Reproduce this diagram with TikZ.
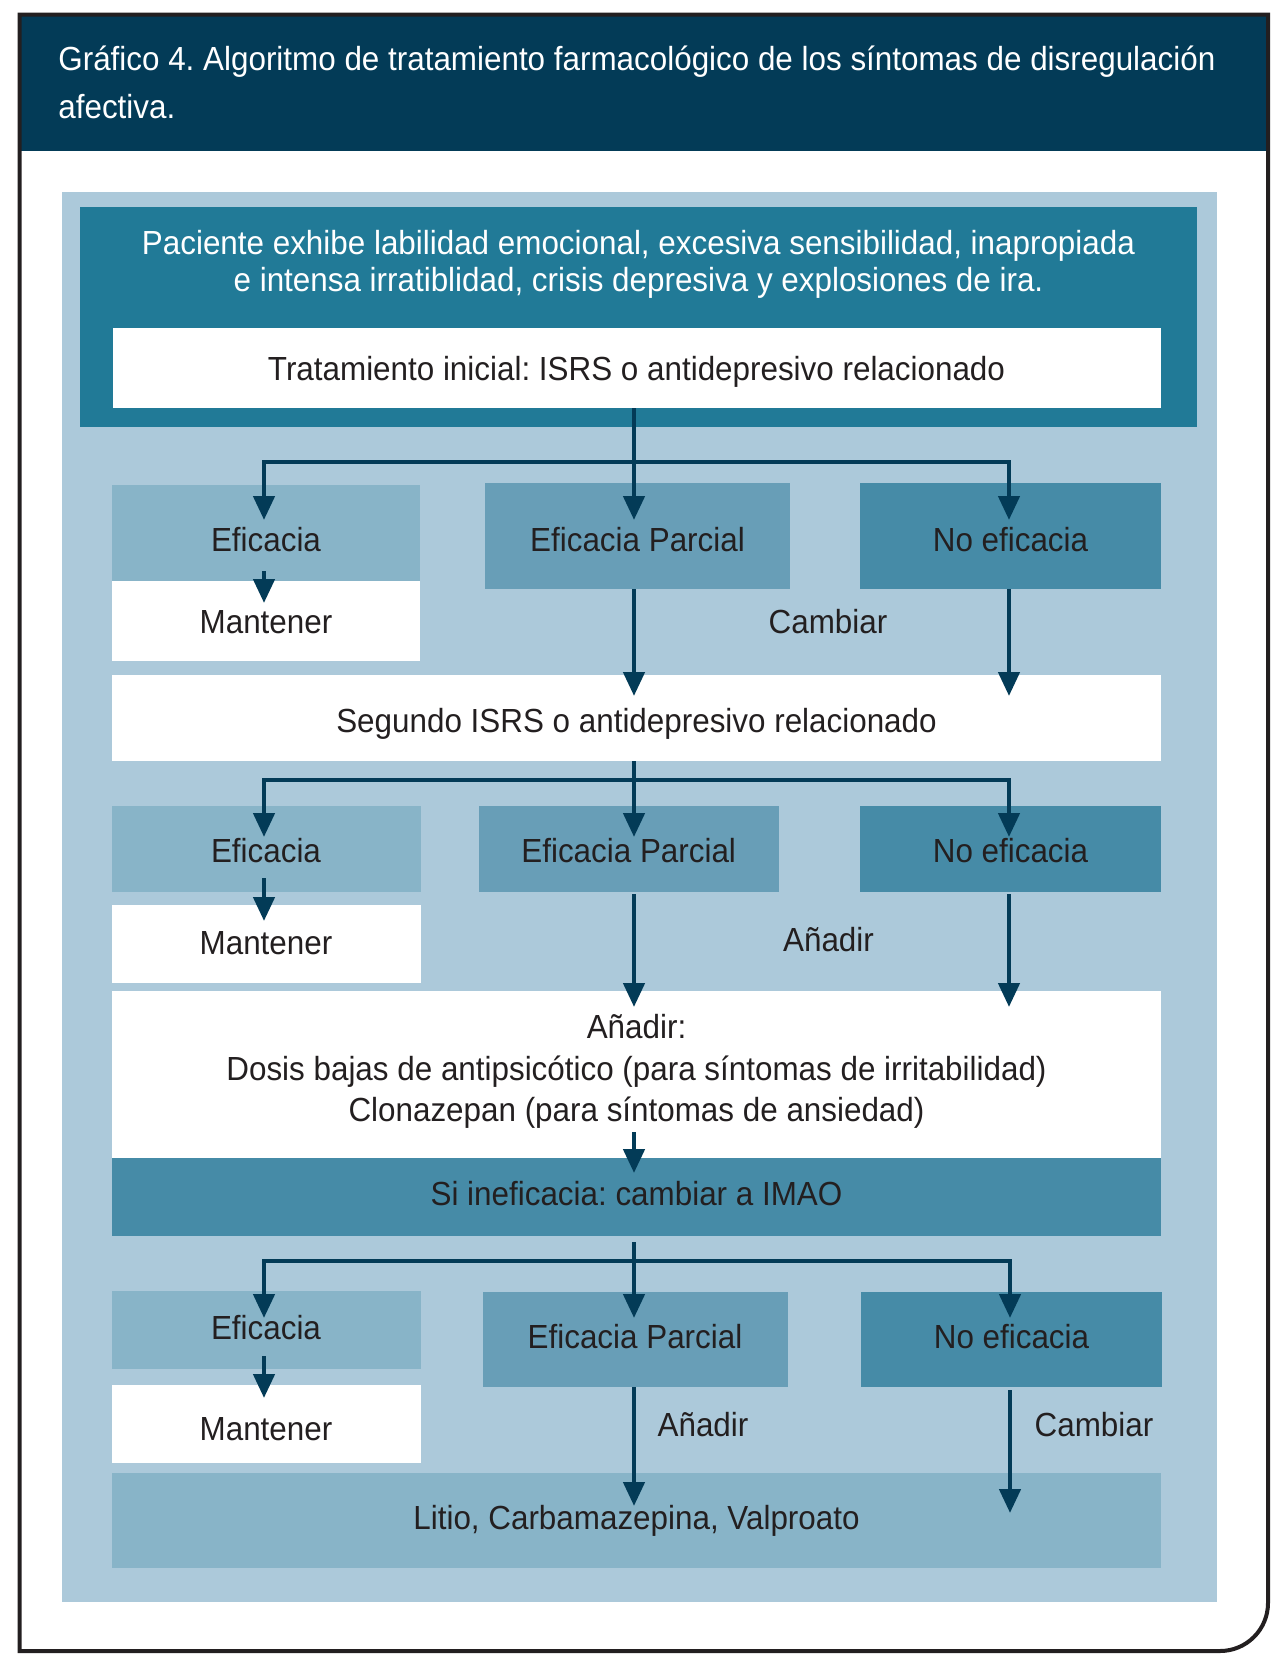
\documentclass[tikz,border=0pt]{standalone}
\usepackage{fontspec}
\setmainfont{Liberation Sans}[FakeStretch=0.94]
\usetikzlibrary{arrows.meta,calc,fit}
\frenchspacing

\definecolor{hdr}{HTML}{033B57}
\definecolor{panel}{HTML}{ACC9DA}
\definecolor{teal}{HTML}{217A97}
\definecolor{effc}{HTML}{88B4C8}
\definecolor{parc}{HTML}{689EB7}
\definecolor{noef}{HTML}{468BA7}
\definecolor{arrowc}{HTML}{033B57}
\definecolor{ink}{HTML}{231F20}
\definecolor{framec}{HTML}{231F20}

\begin{document}
\begin{tikzpicture}[
  x=0.5pt, y=-0.5pt,
  blk/.style={inner sep=0pt, outer sep=0pt, draw=none},
  txt/.style={inner sep=0pt, anchor=base, text=ink, font=\fontsize{16.7pt}{20pt}\selectfont},
  wtxt/.style={txt, text=white},
  arr/.style={draw=arrowc, line width=2.3pt, -{Triangle[length=12pt,width=10.5pt]}},
]
\useasboundingbox (0,0) rectangle (1273,1654);

% header band and outer frame
\fill[hdr] (19.5,14.5) rectangle (1268,151);
\draw[framec, line width=2pt]
  (19.5,1651) -- (19.5,14.5) -- (1268,14.5) -- (1268,1603)
  .. controls (1268,1629.5) and (1246.5,1651) .. (1220,1651) -- cycle;
\node[wtxt, anchor=base west] (title1) at (58,70.7)
  {Gráfico 4. Algoritmo de tratamiento farmacológico de los síntomas de disregulación};
\node[wtxt, anchor=base west] (title2) at (58,118) {afectiva.};

% light panel
\node[blk, fill=panel, fit={(62,192) (1217,1602)}] (panel) {};

% top block
\node[blk, fill=teal, fit={(80,207) (1197,427)}] (pac) {};
\node[wtxt] (pac1) at (638.5,254)
  {Paciente exhibe labilidad emocional, excesiva sensibilidad, inapropiada};
\node[wtxt] (pac2) at (638.5,291)
  {e intensa irratiblidad, crisis depresiva y explosiones de ira.};
\node[blk, fill=white, fit={(112.5,328) (1161,408)}] (tr) {};
\node[txt] (tr-t) at (636.5,380) {Tratamiento inicial: ISRS o antidepresivo relacionado};

% first response row
\node[blk, fill=effc, fit={(112,485) (420,581)}] (ef1) {};
\node[blk, fill=white, fit={(112,581) (420,661)}] (man1) {};
\node[blk, fill=parc, fit={(485,483) (790,589)}] (ep1) {};
\node[blk, fill=noef, fit={(860,483) (1161,589)}] (ne1) {};
\node[txt] (ef1-t) at (266,551) {Eficacia};
\node[txt] (man1-t) at (266,633) {Mantener};
\node[txt] (ep1-t) at (637.5,551) {Eficacia Parcial};
\node[txt] (ne1-t) at (1010.5,551) {No eficacia};
\node[txt] (cam1) at (828,633) {Cambiar};

% second treatment
\node[blk, fill=white, fit={(112,675) (1161,761)}] (seg) {};
\node[txt] (seg-t) at (636.5,732) {Segundo ISRS o antidepresivo relacionado};

% second response row
\node[blk, fill=effc, fit={(111.5,806) (421,892)}] (ef2) {};
\node[blk, fill=white, fit={(111.5,905) (421,983)}] (man2) {};
\node[blk, fill=parc, fit={(479,806) (778.5,892)}] (ep2) {};
\node[blk, fill=noef, fit={(860,806) (1161,892)}] (ne2) {};
\node[txt] (ef2-t) at (266,862) {Eficacia};
\node[txt] (man2-t) at (266,954) {Mantener};
\node[txt] (ep2-t) at (628.7,862) {Eficacia Parcial};
\node[txt] (ne2-t) at (1010.5,862) {No eficacia};
\node[txt] (add2) at (828.5,951) {Añadir};

% add-on block and MAOI switch
\node[blk, fill=white, fit={(112,991) (1161,1158)}] (add) {};
\node[txt] (add-t1) at (636.5,1038) {Añadir:};
\node[txt] (add-t2) at (636.5,1080) {Dosis bajas de antipsicótico (para síntomas de irritabilidad)};
\node[txt] (add-t3) at (636.5,1121) {Clonazepan (para síntomas de ansiedad)};
\node[blk, fill=noef, fit={(112,1158) (1161,1236)}] (si) {};
\node[txt] (si-t) at (636.5,1205) {Si ineficacia: cambiar a IMAO};

% third response row
\node[blk, fill=effc, fit={(111.5,1291) (421,1369)}] (ef3) {};
\node[blk, fill=white, fit={(111.5,1385) (421,1463)}] (man3) {};
\node[blk, fill=parc, fit={(483,1292) (787.5,1387)}] (ep3) {};
\node[blk, fill=noef, fit={(861,1292) (1162,1387)}] (ne3) {};
\node[txt] (ef3-t) at (266,1339) {Eficacia};
\node[txt] (man3-t) at (266,1440) {Mantener};
\node[txt] (ep3-t) at (635,1348) {Eficacia Parcial};
\node[txt] (ne3-t) at (1011.5,1348) {No eficacia};
\node[txt] (add3) at (703,1436) {Añadir};
\node[txt] (cam3) at (1094,1436) {Cambiar};

% mood stabilisers
\node[blk, fill=effc, fit={(112,1473) (1161,1568)}] (lit) {};
\node[txt] (lit-t) at (636.5,1529) {Litio, Carbamazepina, Valproato};

% branching connectors, first row
\coordinate (j1) at (634,462);
\coordinate (l1) at (264,520);
\coordinate (r1) at (1009,520);
\draw[arr] (tr.south -| j1) -- (j1 |- l1);
\draw[arr] (j1) -| (l1);
\draw[arr] (j1) -| (r1);
\draw[arr] ($(ef1.south -| l1)+(0,-10)$) -- ($(man1.north -| l1)+(0,22)$);
\draw[arr] (ep1.south -| j1) -- ($(seg.north -| j1)+(0,21)$);
\draw[arr] (ne1.south -| r1) -- ($(seg.north -| r1)+(0,21)$);

% branching connectors, second row
\coordinate (j2) at (634,780);
\coordinate (l2) at (264,837);
\coordinate (r2) at (1009,837);
\draw[arr] (seg.south -| j2) -- (j2 |- l2);
\draw[arr] (j2) -| (l2);
\draw[arr] (j2) -| (r2);
\draw[arr] ($(ef2.south -| l2)+(0,-14)$) -- ($(man2.north -| l2)+(0,16)$);
\draw[arr] ($(ep2.south -| j2)+(0,2)$) -- ($(add.north -| j2)+(0,16)$);
\draw[arr] ($(ne2.south -| r2)+(0,2)$) -- ($(add.north -| r2)+(0,16)$);
\draw[arr] ($(add.south -| j2)+(0,-26)$) -- ($(si.north -| j2)+(0,15)$);

% branching connectors, third row
\coordinate (j3) at (634,1261);
\coordinate (l3) at (264,1318);
\coordinate (r3) at (1010,1318);
\draw[arr] ($(si.south -| j3)+(0,6)$) -- (j3 |- l3);
\draw[arr] (j3) -| (l3);
\draw[arr] (j3) -| (r3);
\draw[arr] ($(ef3.south -| l3)+(0,-13)$) -- ($(man3.north -| l3)+(0,13)$);
\draw[arr] (ep3.south -| j3) -- ($(lit.north -| j3)+(0,33)$);
\draw[arr] ($(ne3.south -| r3)+(0,3)$) -- ($(lit.north -| r3)+(0,40)$);
\end{tikzpicture}
\end{document}
